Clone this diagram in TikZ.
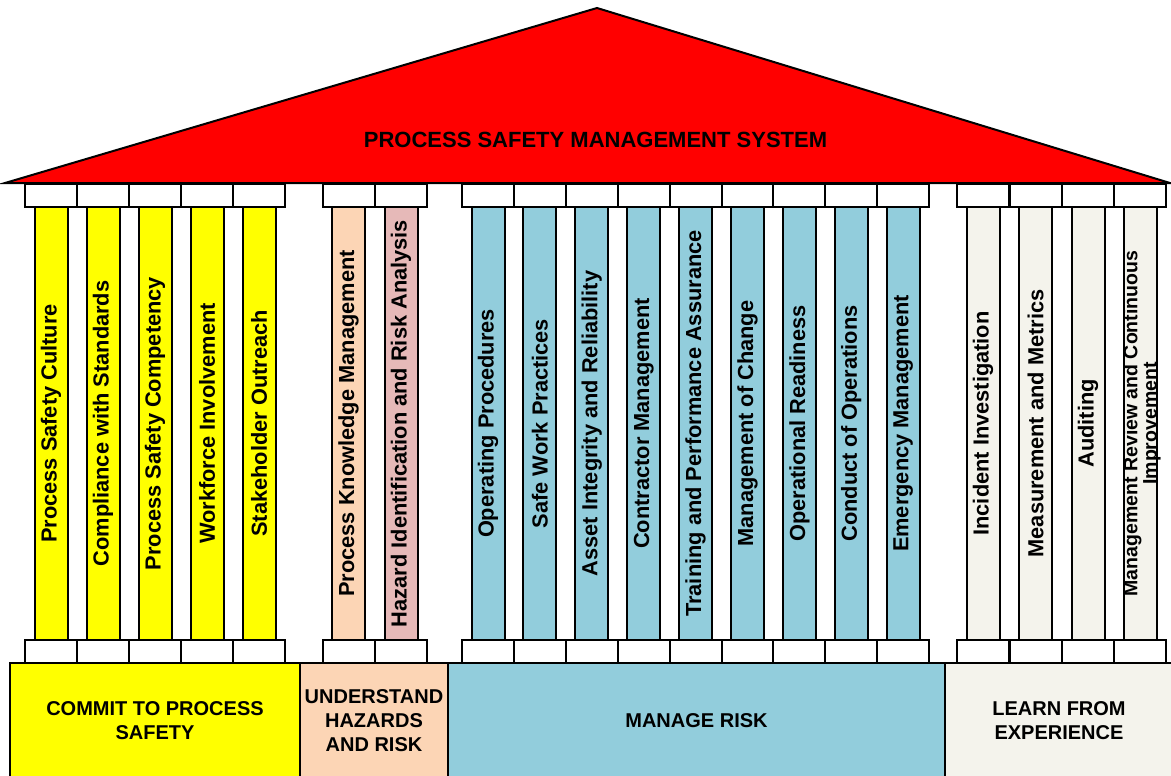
\documentclass[tikz,border=0pt]{standalone}
\usepackage{fontspec}
\setmainfont{Liberation Sans}
\usetikzlibrary{positioning}
\definecolor{roofred}{HTML}{FF0000}
\definecolor{commit}{HTML}{FFFF00}
\definecolor{understand}{HTML}{FCD5B5}
\definecolor{hazard}{HTML}{E6B9B8}
\definecolor{manage}{HTML}{92CDDC}
\definecolor{learn}{HTML}{F4F3EC}
\begin{document}
\begin{tikzpicture}[x=1pt, y=-1pt, line width=2pt,
    pillar/.style={draw, rectangle, rotate=90, minimum width=433pt, minimum height=33pt,
        inner sep=0pt, outer sep=0pt, font=\fontsize{21.8}{24}\selectfont\bfseries},
    capital/.style={draw, rectangle, fill=white, minimum width=52pt, minimum height=23pt,
        inner sep=0pt, outer sep=0pt},
    base/.style={draw, rectangle, minimum height=116pt, inner sep=2pt, outer sep=0pt,
        align=center, font=\fontsize{20}{24}\selectfont\bfseries}]
\useasboundingbox (0,0) rectangle (1171,776);

% Roof
\draw[fill=roofred] (5,183) -- (597,8) -- (1170,183) -- cycle;
\node[font=\fontsize{22}{26}\selectfont\bfseries] (roof) at (595.5,140) {PROCESS SAFETY MANAGEMENT SYSTEM};

% Commit to process safety
\node[pillar, fill=commit] (culture) at (51,423.5) {Process Safety Culture};
\node[pillar, fill=commit] (compliance) at (103,423.5) {Compliance with Standards};
\node[pillar, fill=commit] (competency) at (155,423.5) {Process Safety Competency};
\node[pillar, fill=commit] (workforce) at (207,423.5) {Workforce Involvement};
\node[pillar, fill=commit] (outreach) at (259,423.5) {Stakeholder Outreach};

% Understand hazards and risk
\node[pillar, fill=understand] (knowledge) at (348.5,423.5) {Process Knowledge Management};
\node[pillar, fill=hazard] (hira) at (401,423.5) {Hazard Identification and Risk Analysis};

% Manage risk
\node[pillar, fill=manage] (procedures) at (488,423.5) {Operating Procedures};
\node[pillar, fill=manage] (safework) at (539.9,423.5) {Safe Work Practices};
\node[pillar, fill=manage] (integrity) at (591.8,423.5) {Asset Integrity and Reliability};
\node[pillar, fill=manage] (contractor) at (643.7,423.5) {Contractor Management};
\node[pillar, fill=manage] (training) at (695.6,423.5) {Training and Performance Assurance};
\node[pillar, fill=manage] (moc) at (747.5,423.5) {Management of Change};
\node[pillar, fill=manage] (readiness) at (799.4,423.5) {Operational Readiness};
\node[pillar, fill=manage] (conduct) at (851.3,423.5) {Conduct of Operations};
\node[pillar, fill=manage] (emergency) at (903.2,423.5) {Emergency Management};

% Learn from experience
\node[pillar, fill=learn] (incident) at (983,423.5) {Incident Investigation};
\node[pillar, fill=learn] (metrics) at (1035.5,423.5) {Measurement and Metrics};
\node[pillar, fill=learn] (auditing) at (1088,423.5) {Auditing};
\node[pillar, fill=learn] (review) at (1140,423.5) {\smash{\raisebox{-8pt}{\fontsize{19.5}{19}\selectfont
    \begin{tabular}{@{}c@{}}Management Review and Continuous\\Improvement\end{tabular}}}};

% Capitals and plinths
\foreach \n in {culture, compliance, competency, workforce, outreach, knowledge, hira,
    procedures, safework, integrity, contractor, training, moc, readiness, conduct, emergency,
    incident, metrics, auditing, review} {
    \node[capital, anchor=south] (\n-top) at (\n.east) {};
    \node[capital, anchor=north] (\n-foot) at (\n.west) {};
}

% Foundation
\node[base, fill=commit, minimum width=290pt] (commitbase) at (155,721) {COMMIT TO PROCESS\\SAFETY};
\node[base, fill=understand, minimum width=148pt, right=0pt of commitbase] (understandbase) {UNDERSTAND\\HAZARDS\\AND RISK};
\node[base, fill=manage, minimum width=497pt, right=0pt of understandbase] (managebase) {MANAGE RISK};
\node[base, fill=learn, minimum width=228pt, right=0pt of managebase] (learnbase) {LEARN FROM\\EXPERIENCE};

\end{tikzpicture}
\end{document}
